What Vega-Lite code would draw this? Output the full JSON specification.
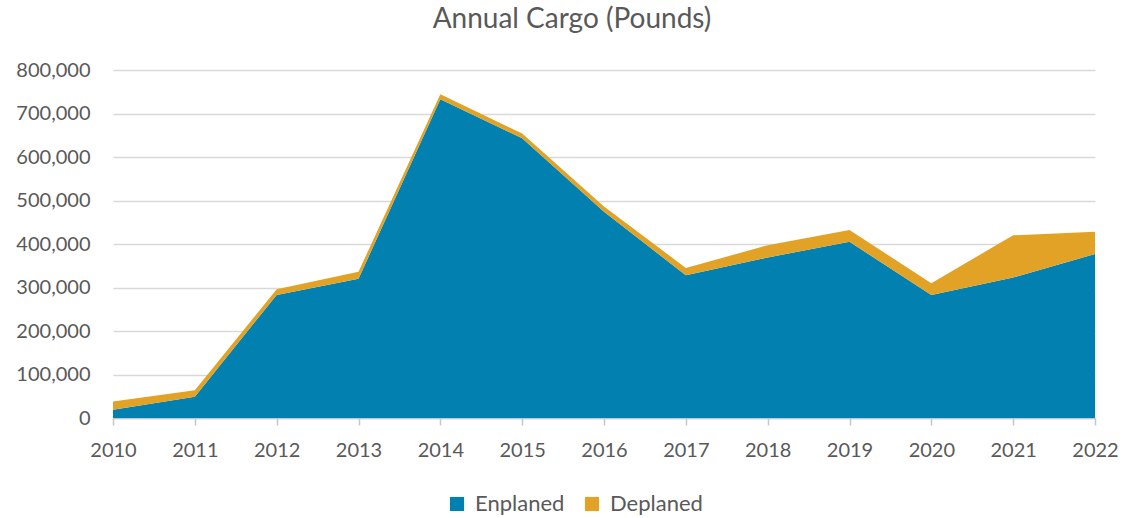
{
  "$schema": "https://vega.github.io/schema/vega-lite/v6.json",
  "width": 982,
  "height": 348,
  "autosize": {"type": "none"},
  "padding": {"left": 113, "top": 70, "right": 31, "bottom": 100},
  "background": "white",
  "title": {"text": "Annual Cargo (Pounds)", "font": "Lato", "fontSize": 28, "fontWeight": "normal", "color": "#595959", "offset": 26, "anchor": "middle", "dx": -32},
  "config": {"view": {"stroke": null}, "font": "Lato"},
  "data": {"values": [
    {"year": 2010, "type": "Enplaned", "pounds": 19000},
    {"year": 2011, "type": "Enplaned", "pounds": 49000},
    {"year": 2012, "type": "Enplaned", "pounds": 283000},
    {"year": 2013, "type": "Enplaned", "pounds": 320000},
    {"year": 2014, "type": "Enplaned", "pounds": 733000},
    {"year": 2015, "type": "Enplaned", "pounds": 643000},
    {"year": 2016, "type": "Enplaned", "pounds": 474000},
    {"year": 2017, "type": "Enplaned", "pounds": 328000},
    {"year": 2018, "type": "Enplaned", "pounds": 369000},
    {"year": 2019, "type": "Enplaned", "pounds": 405000},
    {"year": 2020, "type": "Enplaned", "pounds": 283000},
    {"year": 2021, "type": "Enplaned", "pounds": 323000},
    {"year": 2022, "type": "Enplaned", "pounds": 377000},
    {"year": 2010, "type": "Deplaned", "pounds": 19000},
    {"year": 2011, "type": "Deplaned", "pounds": 15000},
    {"year": 2012, "type": "Deplaned", "pounds": 13000},
    {"year": 2013, "type": "Deplaned", "pounds": 16000},
    {"year": 2014, "type": "Deplaned", "pounds": 11000},
    {"year": 2015, "type": "Deplaned", "pounds": 11000},
    {"year": 2016, "type": "Deplaned", "pounds": 12000},
    {"year": 2017, "type": "Deplaned", "pounds": 17000},
    {"year": 2018, "type": "Deplaned", "pounds": 28000},
    {"year": 2019, "type": "Deplaned", "pounds": 27000},
    {"year": 2020, "type": "Deplaned", "pounds": 27000},
    {"year": 2021, "type": "Deplaned", "pounds": 97000},
    {"year": 2022, "type": "Deplaned", "pounds": 51000}
  ]},
  "mark": {"type": "area", "line": false, "opacity": 1},
  "encoding": {
    "x": {
      "field": "year", "type": "quantitative",
      "scale": {"domain": [2010, 2022], "nice": false, "zero": false},
      "axis": {
        "title": null, "format": "d",
        "values": [2010, 2011, 2012, 2013, 2014, 2015, 2016, 2017, 2018, 2019, 2020, 2021, 2022],
        "grid": false, "domainColor": "#BFC8CF", "domainWidth": 1.5,
        "tickColor": "#BFC8CF", "tickSize": 7, "tickWidth": 1.5,
        "labelFont": "Lato", "labelFontSize": 20, "labelColor": "#595959",
        "labelPadding": 15, "labelFlush": false
      }
    },
    "y": {
      "field": "pounds", "type": "quantitative", "stack": "zero",
      "scale": {"domain": [0, 800000], "nice": false},
      "axis": {
        "title": null, "format": ",d",
        "values": [0, 100000, 200000, 300000, 400000, 500000, 600000, 700000, 800000],
        "domain": false, "ticks": false,
        "gridColor": "#D9D9D9", "gridWidth": 1.5,
        "labelFont": "Lato", "labelFontSize": 20, "labelColor": "#595959",
        "labelPadding": 23
      }
    },
    "color": {
      "field": "type", "type": "nominal",
      "sort": ["Enplaned", "Deplaned"],
      "scale": {"domain": ["Enplaned", "Deplaned"], "range": ["#0281B1", "#E1A225"]},
      "legend": {
        "title": null, "orient": "none", "direction": "horizontal",
        "legendX": 333, "legendY": 423,
        "symbolType": "square", "symbolSize": 200, "symbolStrokeWidth": 0,
        "labelFont": "Lato", "labelFontSize": 22, "labelColor": "#595959",
        "columnPadding": 16, "labelOffset": 7
      }
    }
  }
}
